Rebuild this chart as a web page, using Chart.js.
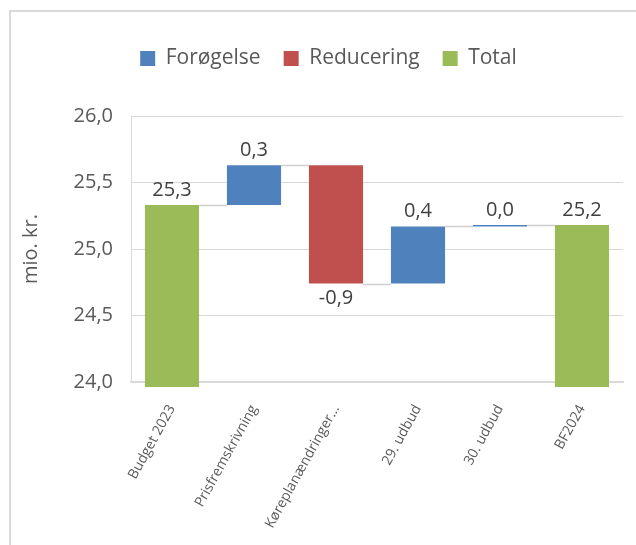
<!DOCTYPE html>
<html>
<head>
<meta charset="utf-8">
<script src="https://cdn.jsdelivr.net/npm/chart.js@4.4.1/dist/chart.umd.min.js"></script>
<style>
	html, body { margin: 0; padding: 0; background: #fff; }
	#wrap { position: relative; width: 636px; height: 545px; overflow: hidden; }
	#frame {
		position: absolute; left: 9px; top: 10px; width: 640px; height: 540px;
		border-left: 2px solid #d9d9d9; border-top: 2px solid #d9d9d9;
		pointer-events: none;
	}
</style>
</head>
<body>
<div id="wrap">
	<canvas id="waterfall" width="636" height="545"></canvas>
	<div id="frame"></div>
</div>
<script>
// data
const categories = ['Budget 2023', 'Prisfremskrivning', 'Køreplanændringer...', '29. udbud', '30. udbud', 'BF2024']
const startTotal = 25.33
const changes = [0.30, -0.89, 0.43, 0.01]
const seriesNames = ['Forøgelse', 'Reducering', 'Total']
const seriesColors = ['#4F81BD', '#C0504D', '#9BBB59']
const yMin = 24
const yMax = 26
const yStep = 0.5

// build the floating bars for the waterfall
const increase = [null]
const decrease = [null]
const total = [startTotal]
const levels = [startTotal] // running total after each category
let running = startTotal
changes.forEach(d => {
	const from = running
	running += d
	increase.push(d >= 0 ? [from, running] : null)
	decrease.push(d < 0 ? [from, running] : null)
	total.push(null)
	levels.push(running)
})
increase.push(null)
decrease.push(null)
total.push(running)
levels.push(running)
const labelValues = [startTotal, ...changes, running]

const fmt = v => Number(v).toFixed(1).replace('.', ',')
const textColor = '#595959'
const gridColor = '#d9d9d9'

Chart.defaults.font.family = '"Open Sans", sans-serif'
Chart.defaults.color = textColor

function barAt(chart, i) {
	for (let d = 0; d < chart.data.datasets.length; d++) {
		if (chart.data.datasets[d].data[i] != null) return chart.getDatasetMeta(d).data[i]
	}
	return null
}

// grey connector lines between the bars
const connectors = {
	id: 'connectors',
	beforeDatasetsDraw(chart) {
		const ctx = chart.ctx
		const y = chart.scales.y
		ctx.save()
		ctx.strokeStyle = '#cfcfcf'
		ctx.lineWidth = 1.5
		for (let i = 0; i < categories.length - 1; i++) {
			const a = barAt(chart, i)
			const b = barAt(chart, i + 1)
			const py = Math.round(y.getPixelForValue(levels[i])) + 0.5
			ctx.beginPath()
			ctx.moveTo(a.x + a.width / 2, py)
			ctx.lineTo(b.x - b.width / 2, py)
			ctx.stroke()
		}
		ctx.restore()
	},
}

// value labels above / below the bars
const valueLabels = {
	id: 'valueLabels',
	afterDatasetsDraw(chart) {
		const ctx = chart.ctx
		ctx.save()
		ctx.font = '20px "Open Sans", sans-serif'
		ctx.fillStyle = '#404040'
		ctx.textAlign = 'center'
		ctx.textBaseline = 'middle'
		labelValues.forEach((v, i) => {
			const el = barAt(chart, i)
			const top = Math.min(el.y, el.base)
			const bottom = Math.max(el.y, el.base)
			ctx.fillText(fmt(v), el.x, v < 0 ? bottom + 15 : top - 15)
		})
		ctx.restore()
	},
}

// extra room between legend and plot
const legendGap = {
	id: 'legendGap',
	beforeLayout(chart) {
		const lg = chart.legend
		if (lg && !lg._gapPatched) {
			const fit = lg.fit
			lg.fit = function () {
				fit.call(this)
				this.height += 37
			}
			lg._gapPatched = true
		}
	},
}

const makeSet = (label, data, color) => ({
	label: label,
	data: data,
	backgroundColor: color,
	borderWidth: 0,
	grouped: false,
	barPercentage: 0.66,
	categoryPercentage: 1,
	clip: { left: 0, top: 0, right: 0, bottom: 5 },
})

new Chart(document.getElementById('waterfall'), {
	type: 'bar',
	data: {
		labels: categories,
		datasets: [
			makeSet(seriesNames[0], increase, seriesColors[0]),
			makeSet(seriesNames[1], decrease, seriesColors[1]),
			makeSet(seriesNames[2], total, seriesColors[2]),
		],
	},
	options: {
		responsive: false,
		animation: false,
		layout: {
			padding: { left: 34, right: 13, top: 25, bottom: 0 },
		},
		plugins: {
			legend: {
				display: true,
				position: 'top',
				labels: {
					boxWidth: 15,
					boxHeight: 15,
					padding: 23,
					color: textColor,
					font: { size: 21 },
				},
			},
			tooltip: { enabled: false },
		},
		scales: {
			x: {
				z: 1,
				grid: { display: false, drawTicks: false },
				border: { display: true, color: gridColor, width: 2 },
				ticks: {
					autoSkip: false,
					minRotation: 61,
					maxRotation: 61,
					padding: 20,
					color: textColor,
					font: { size: 14 },
				},
				afterFit(scale) {
					scale.height = 545 - 382
				},
			},
			y: {
				min: yMin,
				max: yMax,
				grid: { color: gridColor, drawTicks: false },
				border: { display: true, color: gridColor },
				ticks: {
					stepSize: yStep,
					padding: 18,
					color: textColor,
					font: { size: 20 },
					callback: v => fmt(v),
				},
				title: {
					display: true,
					text: 'mio. kr.',
					color: textColor,
					font: { size: 20 },
					padding: { top: -15, bottom: 0 },
				},
				afterFit(scale) {
					scale.width = 131 - 34
				},
			},
		},
	},
	plugins: [connectors, valueLabels, legendGap],
})
</script>
</body>
</html>
